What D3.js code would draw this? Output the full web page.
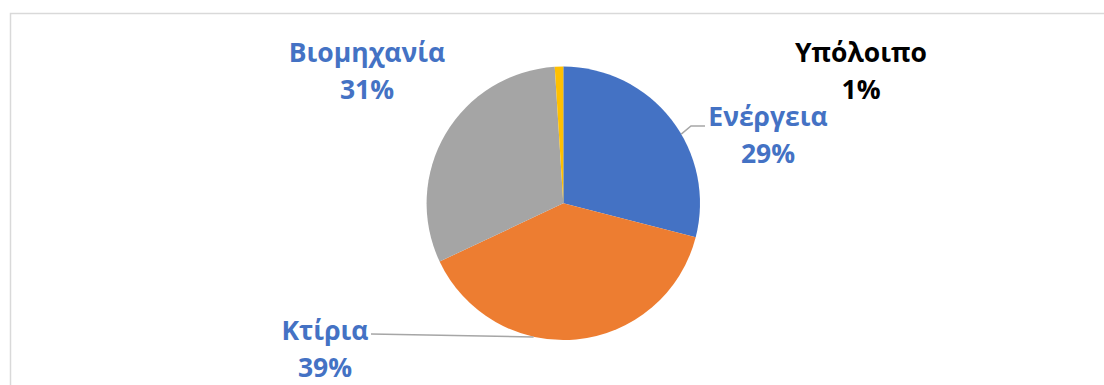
<!DOCTYPE html>
<html>
<head>
<meta charset="utf-8">
<script src="https://cdn.jsdelivr.net/npm/d3@7/dist/d3.min.js"></script>
<style>
  html, body { margin: 0; padding: 0; background: #fff; }
  svg { display: block; }
</style>
</head>
<body>
<svg id="chart" width="1104" height="385"></svg>
<script>
// Share of emissions by sector
const categories = ["Ενέργεια", "Κτίρια", "Βιομηχανία", "Υπόλοιπο"];
const values = [29, 39, 31, 1];

const colors = ["#4472C4", "#ED7D31", "#A5A5A5", "#FFC000"];
const labelColors = ["#4472C4", "#4472C4", "#4472C4", "#000000"];

const W = 1104, H = 385;
const cx = 563.3, cy = 203.3, R = 136.7;

// label anchors (centre x, first baseline y) and optional leader lines
const labelLayout = {
  "Ενέργεια":   { x: 768, y: 126, leader: { angle: 59.6, elbow: [691, 126], end: [705, 126] } },
  "Κτίρια":     { x: 325, y: 340, leader: { angle: 192.6, elbow: [533, 337], end: [371, 334] } },
  "Βιομηχανία": { x: 367, y: 62 },
  "Υπόλοιπο":   { x: 861, y: 62 }
};

const svg = d3.select("#chart");

// chart area frame
svg.append("rect")
  .attr("x", 10.5).attr("y", 13.5)
  .attr("width", W + 20).attr("height", H + 20)
  .attr("fill", "#fff")
  .attr("stroke", "#D9D9D9")
  .attr("stroke-width", 1.5);

const data = categories.map((c, i) => ({ name: c, value: values[i], i }));

const pie = d3.pie().value(d => d.value).sort(null);
const arc = d3.arc().innerRadius(0).outerRadius(R);
const color = d3.scaleOrdinal().domain(categories).range(colors);

const g = svg.append("g").attr("transform", `translate(${cx},${cy})`);
g.selectAll("path")
  .data(pie(data))
  .join("path")
  .attr("d", arc)
  .attr("fill", d => color(d.data.name));

// leader lines
data.forEach(d => {
  const L = labelLayout[d.name].leader;
  if (!L) return;
  const a = L.angle * Math.PI / 180;
  const p0 = [cx + R * Math.sin(a), cy - R * Math.cos(a)];
  svg.append("polyline")
    .attr("points", [p0, L.elbow, L.end].map(p => p.join(",")).join(" "))
    .attr("fill", "none")
    .attr("stroke", "#A6A6A6")
    .attr("stroke-width", 1.5);
});

// data labels
const fmt = v => d3.format(".0%")(v / d3.sum(values));
data.forEach(d => {
  const L = labelLayout[d.name];
  const t = svg.append("text")
    .attr("text-anchor", "middle")
    .attr("font-family", "'Open Sans', 'Noto Sans', sans-serif")
    .attr("font-weight", "bold")
    .attr("font-size", 26.5)
    .attr("fill", labelColors[d.i]);
  t.append("tspan").attr("x", L.x).attr("y", L.y).text(d.name);
  t.append("tspan").attr("x", L.x).attr("y", L.y + 37).text(fmt(d.value));
});
</script>
</body>
</html>
